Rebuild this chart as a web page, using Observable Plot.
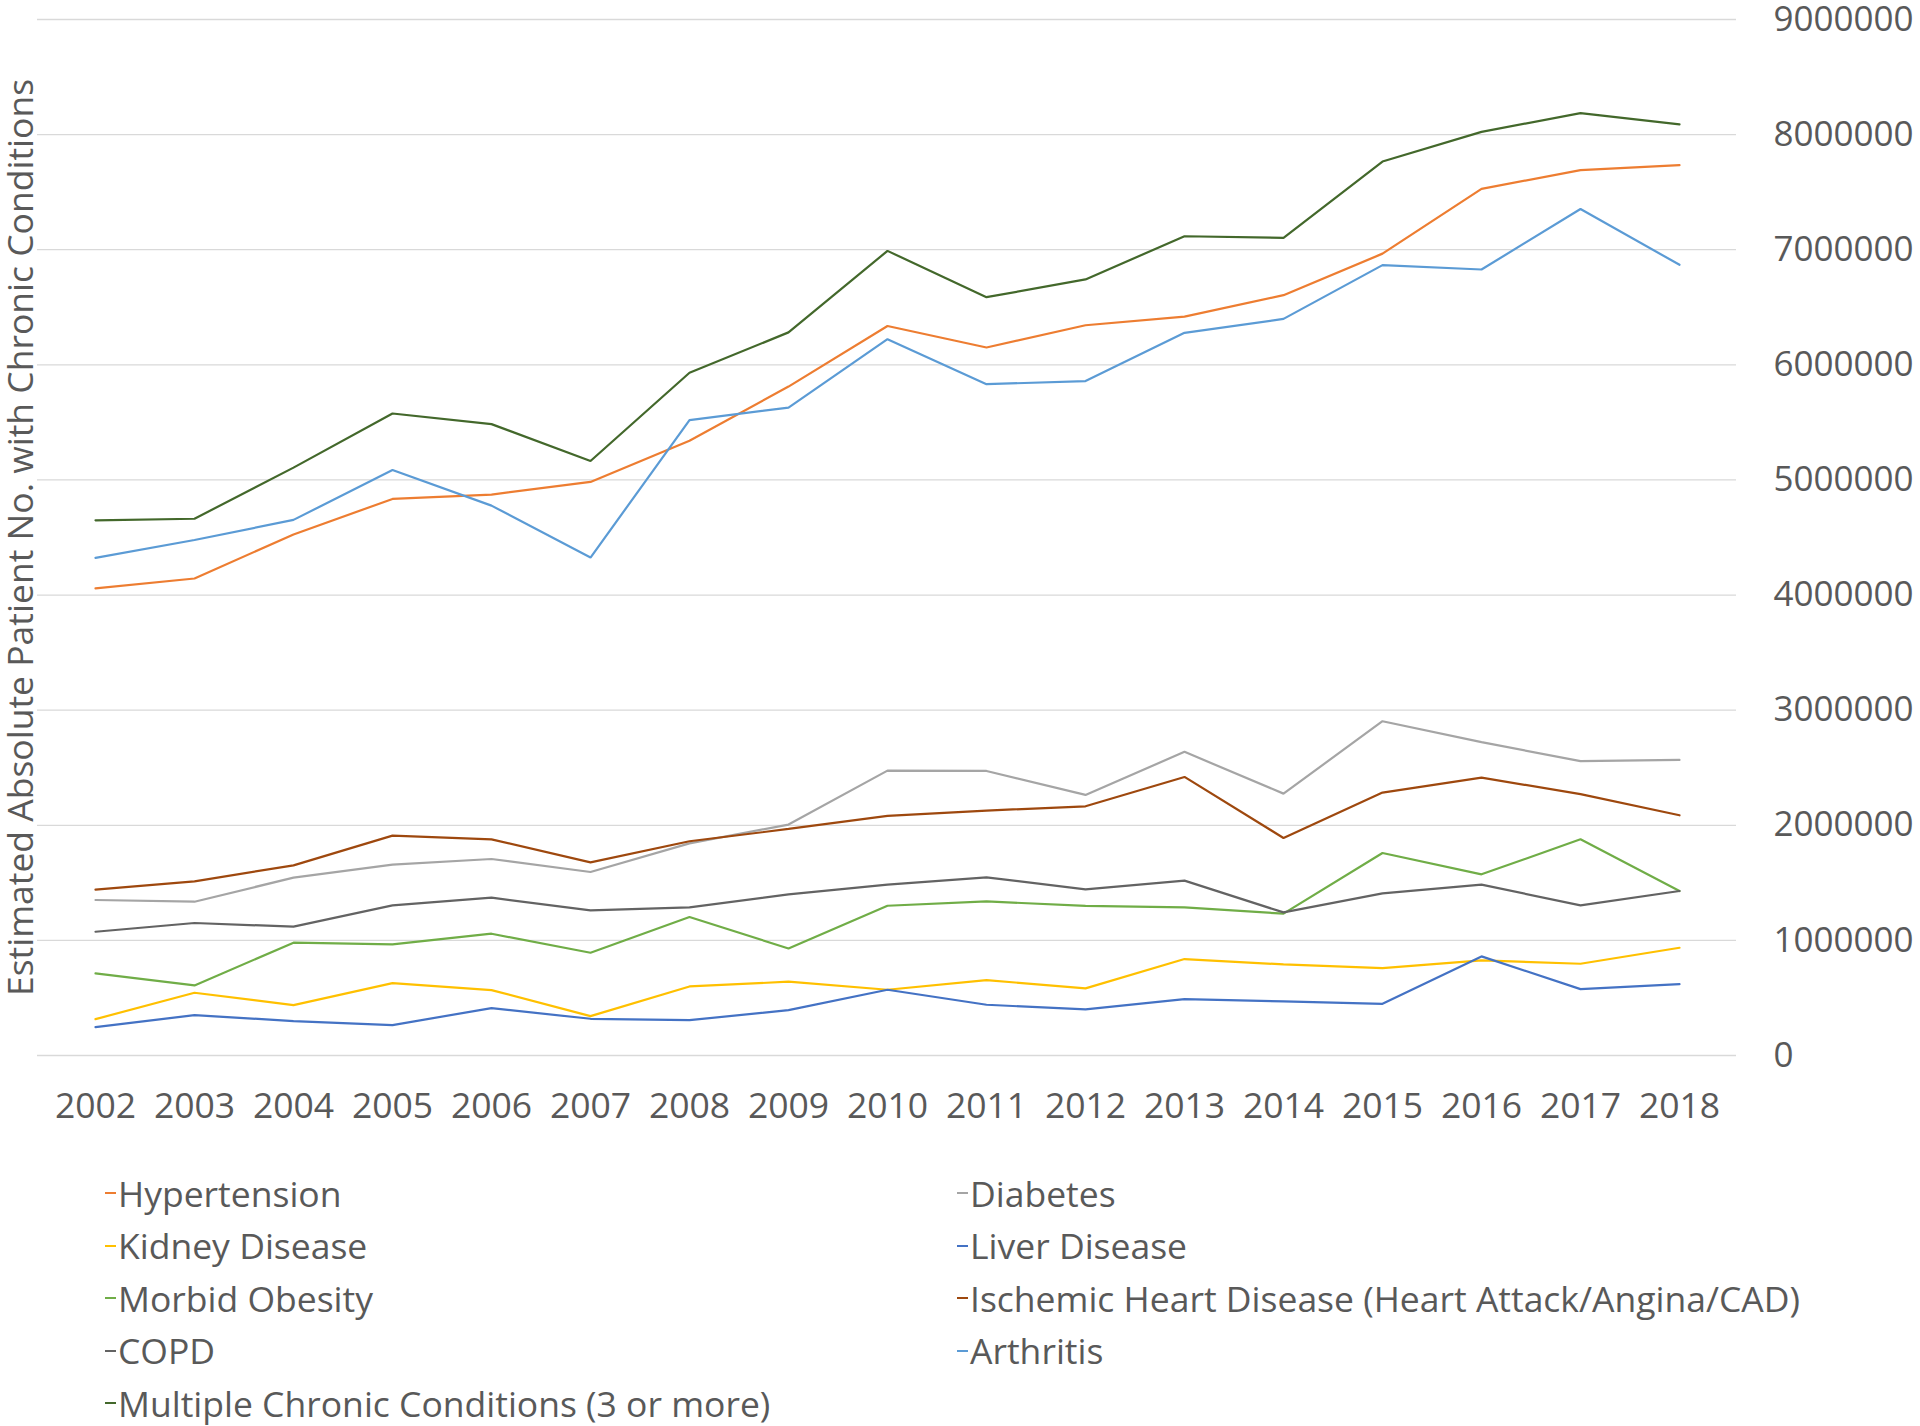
<!DOCTYPE html>
<html>
<head>
<meta charset="utf-8">
<script src="https://cdn.jsdelivr.net/npm/d3@7"></script>
<script src="https://cdn.jsdelivr.net/npm/@observablehq/plot@0.6"></script>
<style>
  html, body { margin: 0; padding: 0; background: #fff; }
  body { font-family: "Open Sans", sans-serif; color: #595959; width: 1920px; }
  #chart svg { display: block; overflow: visible; }
  #legend { display: grid; grid-template-columns: 852px auto; padding-left: 105px; padding-top: 27px; }
  .item { display: flex; align-items: center; height: 52.5px; font-size: 35.5px; line-height: 1; white-space: nowrap; }
  .dash { display: inline-block; width: 11px; height: 2px; margin-right: 2px; }
</style>
</head>
<body>
<div id="chart"></div>
<div id="legend"></div>
<script>
const years = ["2002","2003","2004","2005","2006","2007","2008","2009","2010","2011","2012","2013","2014","2015","2016","2017","2018"];

const seriesNames = [
  "Hypertension",
  "Diabetes",
  "Kidney Disease",
  "Liver Disease",
  "Morbid Obesity",
  "Ischemic Heart Disease (Heart Attack/Angina/CAD)",
  "COPD",
  "Arthritis",
  "Multiple Chronic Conditions (3 or more)"
];

const seriesColors = ["#ED7D31","#A5A5A5","#FFC000","#4472C4","#70AD47","#9E480E","#636363","#5B9BD5","#43682B"];

const hypertension = [4058000,4144000,4526000,4835000,4873000,4983000,5340000,5811000,6337000,6151000,6344000,6419000,6605000,6966000,7529000,7691000,7735000];
const diabetes     = [1351000,1336000,1545000,1658000,1707000,1594000,1843000,2006000,2475000,2472000,2264000,2638000,2275000,2904000,2722000,2557000,2568000];
const kidney       = [316000,545000,438000,629000,568000,342000,600000,641000,571000,655000,583000,838000,791000,759000,826000,797000,936000];
const liver        = [246000,351000,299000,264000,412000,319000,307000,394000,571000,441000,400000,490000,470000,449000,861000,577000,620000];
const obesity      = [713000,609000,980000,965000,1058000,893000,1203000,930000,1301000,1339000,1299000,1287000,1232000,1759000,1574000,1878000,1429000];
const ischemic     = [1441000,1513000,1652000,1910000,1878000,1678000,1861000,1968000,2081000,2128000,2165000,2420000,1890000,2284000,2414000,2270000,2087000];
const copd         = [1075000,1151000,1119000,1304000,1371000,1261000,1287000,1400000,1484000,1548000,1443000,1519000,1243000,1409000,1484000,1304000,1429000];
const arthritis    = [4323000,4478000,4653000,5086000,4777000,4326000,5519000,5629000,6223000,5832000,5859000,6278000,6399000,6866000,6828000,7354000,6869000];
const multiple     = [4649000,4663000,5107000,5577000,5485000,5165000,5931000,6282000,6990000,6588000,6742000,7117000,7103000,7766000,8024000,8186000,8089000];

const yTicks = [0,1000000,2000000,3000000,4000000,5000000,6000000,7000000,8000000,9000000];
const yTitle = "Estimated Absolute Patient No. with Chronic Conditions";

const allValues = [hypertension, diabetes, kidney, liver, obesity, ischemic, copd, arthritis, multiple];
const data = [];
seriesNames.forEach((name, i) => {
  years.forEach((yr, j) => data.push({series: name, year: yr, value: allValues[i][j]}));
});

const chart = Plot.plot({
  width: 1920,
  height: 1140,
  marginTop: 19,
  marginBottom: 85,
  marginLeft: 37,
  marginRight: 184,
  style: {fontFamily: "'Open Sans', sans-serif", color: "#595959", background: "#fff", overflow: "visible"},
  x: {type: "point", domain: years, padding: 0.5},
  y: {domain: [0, 9000000]},
  color: {domain: seriesNames, range: seriesColors},
  marks: [
    Plot.ruleY(yTicks, {stroke: "#D9D9D9", strokeWidth: 1.3}),
    Plot.axisX({anchor: "bottom", tickSize: 0, tickPadding: 37, fontSize: 35.5, fill: "#595959", label: null}),
    Plot.axisY({anchor: "right", ticks: yTicks, tickSize: 0, tickPadding: 37, fontSize: 35, fill: "#595959", label: null, tickFormat: d => String(d)}),
    Plot.text([yTitle], {frameAnchor: "left", text: d => d, rotate: -90, dx: -16, fontSize: 35.5, fill: "#595959", textAnchor: "middle", lineAnchor: "middle"}),
    Plot.line(data, {x: "year", y: "value", z: "series", stroke: "series", strokeWidth: 2.2, strokeLinejoin: "miter"})
  ]
});
document.getElementById("chart").appendChild(chart);

const legend = document.getElementById("legend");
seriesNames.forEach((name, i) => {
  const item = document.createElement("div");
  item.className = "item";
  const dash = document.createElement("span");
  dash.className = "dash";
  dash.style.background = seriesColors[i];
  const label = document.createElement("span");
  label.textContent = name;
  item.appendChild(dash);
  item.appendChild(label);
  legend.appendChild(item);
});
</script>
</body>
</html>
